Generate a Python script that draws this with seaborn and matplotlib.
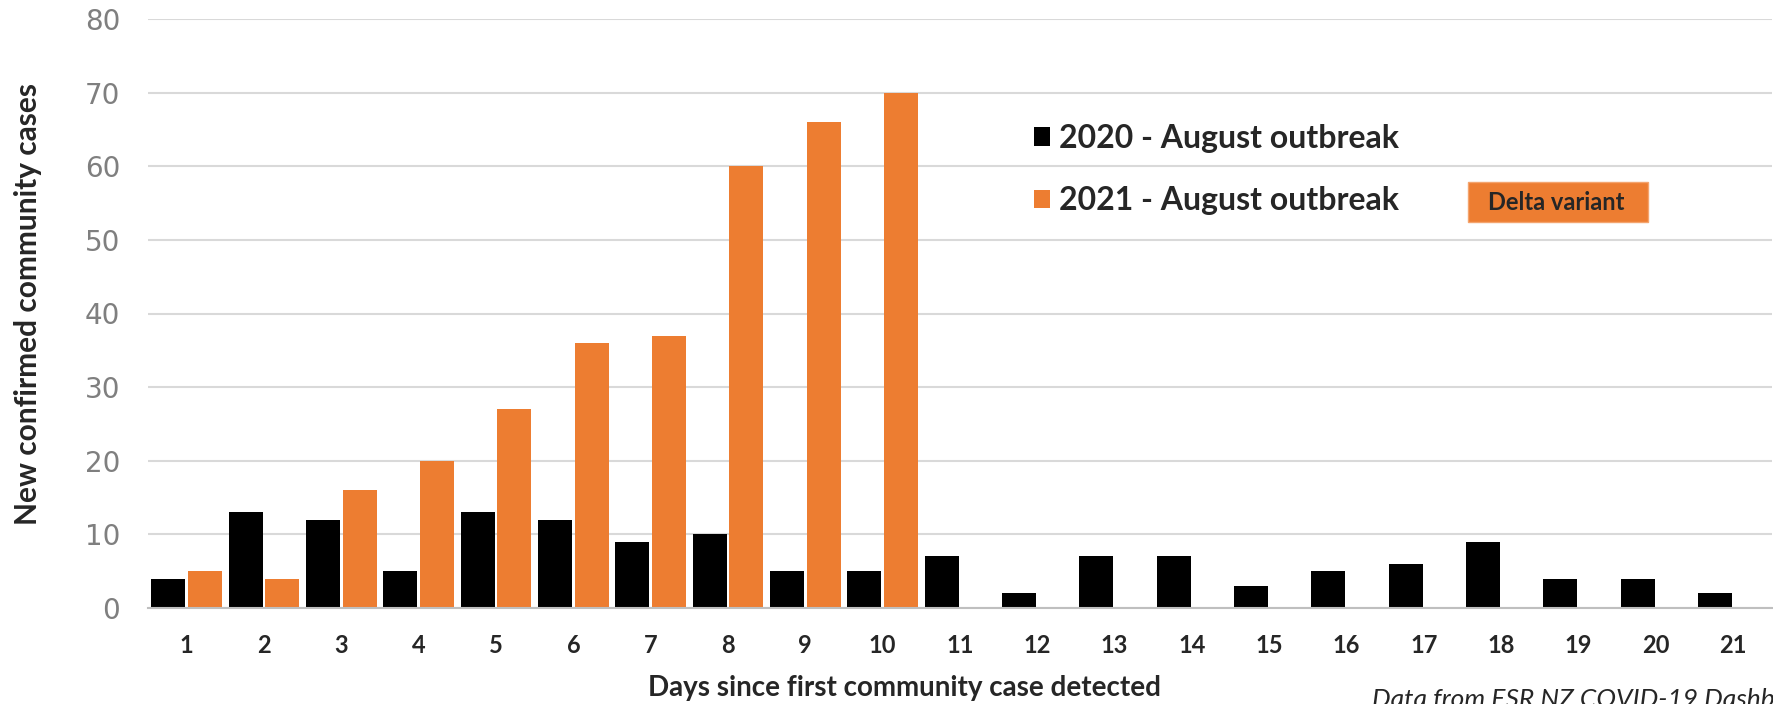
import numpy as np
import pandas as pd
import matplotlib.pyplot as plt
import seaborn as sns
from matplotlib.patches import Rectangle

##### data
days = list(range(1, 22))
cases_2020 = [4, 13, 12, 5, 13, 12, 9, 10, 5, 5, 7, 2, 7, 7, 3, 5, 6, 9, 4, 4, 2]
cases_2021 = [5, 4, 16, 20, 27, 36, 37, 60, 66, 70] + [np.nan] * 11
series = ["2020 - August outbreak", "2021 - August outbreak"]
colours = ["#000000", "#ED7D31"]
y_ticks = list(range(0, 81, 10))

df = pd.DataFrame({
    "day": days * 2,
    "cases": cases_2020 + cases_2021,
    "outbreak": [series[0]] * len(days) + [series[1]] * len(days),
})

sns.set_style("white")
plt.rcParams['font.family'] = ["Lato", "DejaVu Sans"]

W, H = 1774, 704
fig = plt.figure(figsize=(W / 100, H / 100), dpi=100)
ax = fig.add_axes([148 / W, 96 / H, 1624 / W, 589 / H])

sns.barplot(data=df, x="day", y="cases", hue="outbreak", palette=colours,
            saturation=1, width=0.95, gap=0.07, linewidth=0, ax=ax)

ax.set_xlim(-0.5, len(days) - 0.5)
ax.set_ylim(0, 80)
ax.set_yticks(y_ticks)
ax.set_yticklabels([str(t) for t in y_ticks], fontsize=20, color="#7F7F7F",
                   family="DejaVu Sans")
ax.set_xticks(range(len(days)))
ax.set_xticklabels([str(d) for d in days], fontsize=17, fontweight="bold")
ax.set_xticks(np.arange(-0.5, len(days), 1), minor=True)
ax.tick_params(axis="x", which="major", length=0, pad=19)
ax.tick_params(axis="x", which="minor", length=10, width=1.5, color="#BFBFBF")
ax.tick_params(axis="y", length=0, pad=20)

for s in ["top", "right", "left"]:
    ax.spines[s].set_visible(False)
ax.spines["bottom"].set_color("#BFBFBF")
ax.spines["bottom"].set_linewidth(1.5)
ax.yaxis.grid(True, color="#D9D9D9", linewidth=1.5)
ax.set_axisbelow(True)

ax.set_xlabel("")
ax.set_ylabel("")
fig.text(28 / W, 1 - 304 / H, "New confirmed community cases", rotation=90,
         ha="center", va="center", fontsize=21.5, fontweight="bold")
fig.text(905 / W, 1 - 688 / H, "Days since first community case detected",
         ha="center", va="center", fontsize=20, fontweight="bold")
fig.text(1372 / W, 1 - 688 / H, "Data from ESR NZ COVID-19 Dashboard",
         ha="left", va="top", fontsize=19, style="italic", color="#262626")

# legend
handles, labels = ax.get_legend_handles_labels()
ax.legend(handles, labels, loc="upper left", bbox_to_anchor=(1005 / W, 1 - 95 / H),
          bbox_transform=fig.transFigure, frameon=False,
          handlelength=0.5, handleheight=0.5, handletextpad=0.3, labelspacing=1.05,
          prop={"weight": "bold", "size": 23})

# delta variant box
fig.add_artist(Rectangle((1468 / W, 1 - 222 / H), 180 / W, 40 / H,
                         transform=fig.transFigure, facecolor="#ED7D31",
                         edgecolor="#F4A46E", linewidth=1))
fig.text(1556 / W, 1 - 203 / H, "Delta variant", ha="center", va="center",
         fontsize=17, fontweight="bold")

fig.savefig("out.png", dpi=100)
